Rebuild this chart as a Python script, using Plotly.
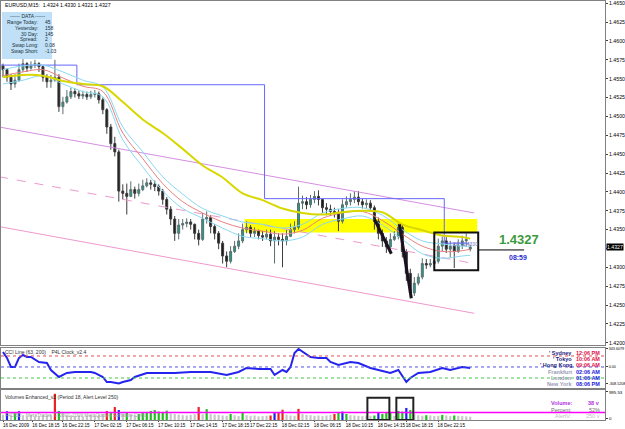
import plotly.graph_objects as go
from plotly.subplots import make_subplots

# ---------------- data ----------------
bar_idx = list(range(118))
opens = [1.4567,1.4562,1.4552,1.4543,1.4548,1.4562,1.4570,1.4564,1.4568,1.4570,
         1.4566,1.4552,1.4546,1.4548,1.4552,1.4513,1.4519,1.4526,1.4533,1.4530,
         1.4527,1.4529,1.4526,1.4529,1.4530,1.4522,1.4509,1.4486,1.4464,1.4453,
         1.4401,1.4398,1.4394,1.4403,1.4398,1.4403,1.4408,1.4412,1.4410,1.4407,
         1.4401,1.4390,1.4377,1.4364,1.4345,1.4356,1.4358,1.4360,1.4357,1.4345,
         1.4337,1.4364,1.4366,1.4354,1.4345,1.4332,1.4315,1.4308,1.4321,1.4328,
         1.4335,1.4350,1.4353,1.4345,1.4348,1.4342,1.4340,1.4344,1.4335,1.4340,
         1.4337,1.4335,1.4341,1.4350,1.4353,1.4385,1.4387,1.4383,1.4390,1.4394,
         1.4390,1.4379,1.4377,1.4374,1.4372,1.4361,1.4383,1.4387,1.4390,1.4393,
         1.4387,1.4383,1.4385,1.4379,1.4361,1.4345,1.4335,1.4327,1.4337,1.4341,
         1.4353,1.4321,1.4292,1.4266,1.4279,1.4287,1.4305,1.4303,1.4305,1.4308,
         1.4328,1.4335,1.4324,1.4328,1.4321,1.4329,1.4335,1.4324]
closes = [1.4562,1.4552,1.4543,1.4548,1.4562,1.4570,1.4564,1.4568,1.4570,1.4566,
          1.4552,1.4546,1.4548,1.4552,1.4513,1.4519,1.4526,1.4533,1.4530,1.4527,
          1.4529,1.4526,1.4529,1.4530,1.4522,1.4509,1.4486,1.4464,1.4453,1.4401,
          1.4398,1.4394,1.4403,1.4398,1.4403,1.4408,1.4412,1.4410,1.4407,1.4401,
          1.4390,1.4377,1.4364,1.4345,1.4356,1.4358,1.4360,1.4357,1.4345,1.4337,
          1.4364,1.4366,1.4354,1.4345,1.4332,1.4315,1.4308,1.4321,1.4328,1.4335,
          1.4350,1.4353,1.4345,1.4348,1.4342,1.4340,1.4344,1.4335,1.4340,1.4337,
          1.4335,1.4341,1.4350,1.4353,1.4385,1.4387,1.4383,1.4390,1.4394,1.4390,
          1.4379,1.4377,1.4374,1.4372,1.4361,1.4383,1.4387,1.4390,1.4393,1.4387,
          1.4383,1.4385,1.4379,1.4361,1.4345,1.4335,1.4327,1.4337,1.4341,1.4353,
          1.4321,1.4292,1.4266,1.4279,1.4287,1.4305,1.4303,1.4305,1.4308,1.4328,
          1.4335,1.4324,1.4328,1.4321,1.4329,1.4335,1.4337,1.4327]
highs = [1.4570,1.4564,1.4556,1.4556,1.4570,1.4576,1.4572,1.4573,1.4575,1.4572,
         1.4567,1.4556,1.4555,1.4575,1.4556,1.4526,1.4535,1.4538,1.4537,1.4534,
         1.4534,1.4533,1.4534,1.4535,1.4533,1.4525,1.4511,1.4490,1.4473,1.4456,
         1.4410,1.4411,1.4414,1.4407,1.4411,1.4416,1.4418,1.4416,1.4415,1.4410,
         1.4404,1.4393,1.4381,1.4368,1.4364,1.4364,1.4365,1.4364,1.4358,1.4350,
         1.4372,1.4374,1.4369,1.4357,1.4348,1.4335,1.4321,1.4328,1.4335,1.4345,
         1.4358,1.4361,1.4356,1.4353,1.4350,1.4348,1.4350,1.4350,1.4348,1.4345,
         1.4345,1.4350,1.4358,1.4361,1.4407,1.4395,1.4393,1.4396,1.4401,1.4402,
         1.4390,1.4385,1.4383,1.4379,1.4377,1.4390,1.4394,1.4398,1.4401,1.4401,
         1.4391,1.4390,1.4389,1.4382,1.4366,1.4350,1.4340,1.4345,1.4348,1.4358,
         1.4356,1.4324,1.4298,1.4287,1.4292,1.4312,1.4311,1.4311,1.4313,1.4338,
         1.4341,1.4340,1.4335,1.4332,1.4337,1.4342,1.4345,1.4330]
lows = [1.4552,1.4546,1.4535,1.4538,1.4546,1.4559,1.4559,1.4562,1.4564,1.4559,
        1.4546,1.4538,1.4538,1.4546,1.4506,1.4503,1.4517,1.4523,1.4525,1.4523,
        1.4523,1.4522,1.4523,1.4525,1.4517,1.4503,1.4477,1.4456,1.4447,1.4387,
        1.4390,1.4370,1.4393,1.4391,1.4394,1.4401,1.4406,1.4403,1.4401,1.4395,
        1.4383,1.4370,1.4356,1.4335,1.4337,1.4350,1.4353,1.4350,1.4337,1.4329,
        1.4335,1.4358,1.4345,1.4337,1.4324,1.4305,1.4300,1.4305,1.4319,1.4324,
        1.4332,1.4345,1.4340,1.4340,1.4337,1.4335,1.4337,1.4328,1.4305,1.4329,
        1.4300,1.4329,1.4340,1.4345,1.4350,1.4377,1.4377,1.4379,1.4385,1.4382,
        1.4372,1.4369,1.4368,1.4366,1.4348,1.4358,1.4379,1.4382,1.4385,1.4382,
        1.4378,1.4378,1.4374,1.4350,1.4337,1.4327,1.4319,1.4319,1.4335,1.4337,
        1.4313,1.4282,1.4259,1.4262,1.4276,1.4284,1.4298,1.4300,1.4300,1.4305,
        1.4321,1.4319,1.4313,1.4299,1.4319,1.4324,1.4327,1.4321]

ma_idx = [0,5,10,15,20,25,30,35,40,45,50,55,60,65,70,75,80,85,90,95,100,105,110,115,117]
ma_yellow = [1.4552,1.4555,1.4554,1.4547,1.4543,1.4540,1.4519,1.4496,1.4478,1.4457,1.4435,1.4419,1.4398,
             1.4389,1.4378,1.4372,1.4370,1.4373,1.4375,1.4373,1.4357,1.4349,1.4342,1.4340,1.4338]
env_upper = [1.4562,1.4567,1.4568,1.4559,1.4548,1.4539,1.4486,1.4453,1.4420,1.4397,1.4378,1.4368,1.4360,
             1.4357,1.4352,1.4357,1.4372,1.4378,1.4379,1.4369,1.4350,1.4335,1.4331,1.4328,1.4328]
ma_red = [1.4554,1.4559,1.4562,1.4551,1.4540,1.4533,1.4478,1.4444,1.4411,1.4387,1.4372,1.4360,1.4352,
          1.4348,1.4344,1.4349,1.4365,1.4372,1.4374,1.4362,1.4344,1.4328,1.4321,1.4322,1.4324]
env_lower = [1.4543,1.4548,1.4554,1.4543,1.4533,1.4526,1.4469,1.4433,1.4401,1.4378,1.4365,1.4352,1.4341,
             1.4338,1.4335,1.4340,1.4357,1.4364,1.4368,1.4356,1.4337,1.4318,1.4312,1.4315,1.4316]

chan_x = [-1, 118]
chan_upper = [1.4486, 1.4372]
chan_middle = [1.4420, 1.4305]
chan_lower = [1.4354, 1.4239]

step_x = [-0.5, 18.5, 65.5, 110.5, 116.75]
step_y = [1.4568, 1.4542, 1.4391, 1.4332, 1.4332]

zone_x = [60.5, 118.75]
zone_y = [1.4346, 1.4364]
box_x = [108, 119]
box_y = [1.4296, 1.4346]
zig_x = [93, 97.25, None, 99.25, 102.25]
zig_y = [1.4364, 1.4318, None, 1.4357, 1.4259]
last_price = 1.4327
bid_line_x = [119, 130.5]

cci_x = [0,1,2,3,4,5,6,7,9,11,12,14,16,18,22,23,25,26,27,29,30,32,33,36,39,43,47,52,56,59,61,64,67,68,
         70,71,72,73,74,77,79,81,82,84,87,89,92,94,97,99,101,102,104,107,110,112,115,117]
cci_v = [273,164,0,0,164,218,182,182,91,73,-55,-182,-109,-91,-91,-109,-182,-273,-273,-300,-273,-236,-182,
         -109,-109,-109,-91,-91,-145,-91,-18,-36,-36,-145,-55,-91,0,255,327,182,164,164,91,36,91,73,-18,
         -55,-109,-55,-273,-200,-109,-91,-18,-55,0,-18]
cci_levels = [200, 0, -200]

volumes = [180,290,140,230,290,150,120,160,110,130,
           150,140,170,870,300,220,160,140,130,150,
           120,140,160,130,170,200,300,250,430,330,
           220,250,180,160,200,230,260,300,330,280,
           250,310,220,200,180,160,150,170,190,430,
           190,360,200,180,170,150,140,200,160,130,
           250,160,140,150,120,130,140,150,230,250,
           340,180,150,140,370,200,170,160,140,150,
           130,150,170,200,250,280,200,160,150,140,
           130,150,140,150,230,200,250,230,140,300,
           280,400,330,200,160,140,160,150,130,140,
           170,150,130,150,140,130,120,110]
vol_kind = list("gBgGBggggg" "gggRGggggg" "ggggggRGRB" "gGggGGGGGG" "GGgggggggR"
                "gGgggggGgg" "GggggggRB"  "R" "RgggRggggg" "gggRGBGggg" "gggGBGGGgG"
                "GBGgggGggg" "GggGgggg")
alert_level = 250
vol_box_x = [[91.25, 96.75], [98.5, 102.75]]
vol_box_y = [0, 740]

price_ticks = [1.4200,1.4225,1.4250,1.4275,1.4300,1.4325,1.4350,1.4375,1.4400,1.4425,1.4450,
               1.4475,1.4500,1.4525,1.4550,1.4575,1.4600,1.4625,1.4650]
time_ticks = [0, 7.5, 15, 23, 31, 39, 47, 55, 62, 70, 78, 86, 94, 101, 109]
time_labels = ["16 Dec 2009","16 Dec 18:15","16 Dec 22:15","17 Dec 02:15","17 Dec 06:15","17 Dec 10:15",
               "17 Dec 14:15","17 Dec 18:15","17 Dec 22:15","18 Dec 02:15","18 Dec 06:15","18 Dec 10:15",
               "18 Dec 14:15","18 Dec 18:15","18 Dec 22:15"]

# ---------------- figure ----------------
FONT = "Liberation Sans"
W, H = 625, 429
ML, MR, MT, MB = 1, 20, 1, 9
PW, PH = W - ML - MR, H - MT - MB

def px(x):
    return (x - ML) / PW

def py(y):
    return (H - MB - y) / PH

fig = make_subplots(rows=3, cols=1, shared_xaxes=True, vertical_spacing=0)

fig.add_trace(go.Scatter(x=chan_x, y=chan_upper, mode="lines", line=dict(color="#d48ee0", width=1)), 1, 1)
fig.add_trace(go.Scatter(x=chan_x, y=chan_middle, mode="lines", line=dict(color="#ee99cc", width=1, dash="dash")), 1, 1)
fig.add_trace(go.Scatter(x=chan_x, y=chan_lower, mode="lines", line=dict(color="#ee99cc", width=1)), 1, 1)
fig.add_trace(go.Scatter(x=step_x, y=step_y, mode="lines", line=dict(color="#6666ff", width=1, shape="hv")), 1, 1)
fig.add_trace(go.Scatter(x=ma_idx, y=env_upper, mode="lines", line=dict(color="#88d8f0", width=1, shape="spline")), 1, 1)
fig.add_trace(go.Scatter(x=ma_idx, y=env_lower, mode="lines", line=dict(color="#88d8f0", width=1, shape="spline")), 1, 1)
fig.add_trace(go.Scatter(x=ma_idx, y=ma_red, mode="lines", line=dict(color="#e88080", width=1, shape="spline")), 1, 1)
fig.add_trace(go.Scatter(x=ma_idx, y=ma_yellow, mode="lines", line=dict(color="#d8d800", width=2, shape="spline")), 1, 1)
fig.add_trace(go.Candlestick(x=bar_idx, open=opens, high=highs, low=lows, close=closes,
                             increasing=dict(line=dict(color="#5a6e6e", width=1), fillcolor="#1fa08e"),
                             decreasing=dict(line=dict(color="#3a3a3a", width=1), fillcolor="#1a1a1a"),
                             whiskerwidth=0), 1, 1)
fig.add_trace(go.Scatter(x=zig_x, y=zig_y, mode="lines", line=dict(color="#1a1020", width=3)), 1, 1)
fig.add_trace(go.Scatter(x=bid_line_x, y=[last_price - 0.0004] * 2, mode="lines",
                         line=dict(color="black", width=1)), 1, 1)

# CCI
fig.add_trace(go.Scatter(x=cci_x, y=cci_v, mode="lines", line=dict(color="#2424ee", width=2)), 2, 1)
for lvl, col in zip(cci_levels, ["#e05050", "#5050e0", "#40cc40"]):
    fig.add_hline(y=lvl, line=dict(color=col, width=1, dash="dot"), row=2, col=1)

# Volumes
cmap = {"g": "#c8c8c8", "G": "#22bb22", "R": "#ee2020", "B": "#2020ee"}
fig.add_trace(go.Bar(x=bar_idx, y=volumes, marker=dict(color=[cmap[k] for k in vol_kind], line=dict(width=0)),
                     width=0.55), 3, 1)
fig.add_hline(y=alert_level, line=dict(color="#ff00ff", width=1.5), row=3, col=1)
for bx in vol_box_x:
    fig.add_shape(type="rect", x0=bx[0], x1=bx[1], y0=vol_box_y[0], y1=vol_box_y[1], xref="x3", yref="y3",
                  line=dict(color="#222222", width=2))

# main shapes
fig.add_shape(type="rect", x0=zone_x[0], x1=zone_x[1], y0=zone_y[0], y1=zone_y[1], xref="x", yref="y",
              fillcolor="#ffff00", line=dict(width=0), layer="below")
fig.add_shape(type="rect", x0=box_x[0], x1=box_x[1], y0=box_y[0], y1=box_y[1], xref="x", yref="y",
              line=dict(color="#111111", width=2))

# axes
ax_common = dict(showgrid=False, zeroline=False, showline=True, mirror=True, linecolor="#808080", linewidth=1,
                 range=[-0.5, 150.75], automargin=False)
fig.update_xaxes(**ax_common, rangeslider_visible=False)
fig.update_xaxes(showticklabels=False, row=1, col=1)
fig.update_xaxes(showticklabels=False, row=2, col=1)
fig.update_xaxes(tickmode="array", tickvals=time_ticks, ticktext=time_labels, ticks="outside", ticklen=1,
                 tickcolor="#404040", tickfont=dict(family=FONT, size=4.6, color="black"), ticklabelshift=13,
                 ticklabelstandoff=-1, tickangle=0, row=3, col=1)

ay_common = dict(showgrid=False, zeroline=False, showline=True, mirror=True, linecolor="#808080", linewidth=1,
                 side="right", ticks="outside", ticklen=2, tickcolor="#404040", automargin=False,
                 ticklabelstandoff=0, tickfont=dict(family=FONT, size=5.2, color="black"))
fig.update_layout(
    yaxis=dict(**ay_common, domain=[py(345), 1], range=[1.4197, 1.4653], tickmode="array",
               tickvals=price_ticks,
               ticktext=["" if abs(v - last_price) < 0.001 else "%.4f" % v for v in price_ticks]),
    yaxis2=dict(**ay_common, domain=[py(388), py(348)], range=[-382, 345], tickmode="array",
                tickvals=[330, 0, -300], ticktext=["343.6079", "0.00", "-308.5208"]),
    yaxis3=dict(**ay_common, domain=[0, py(390)], range=[0, 995.53], tickmode="array",
                tickvals=[930, 60], ticktext=["995.53", "0"]),
)
fig.update_yaxes(tickfont=dict(family=FONT, size=3.7, color="black"), row=2, col=1)
fig.update_yaxes(tickfont=dict(family=FONT, size=4.4, color="black"), row=3, col=1)

anns = []
def ann(x, y, text, size=6, color="black", xanchor="left", bold=False, **kw):
    t = "<b>%s</b>" % text if bold else text
    anns.append(dict(x=px(x), y=py(y), xref="paper", yref="paper", text=t, showarrow=False,
                     xanchor=xanchor, yanchor="middle", font=dict(family=FONT, size=size, color=color), **kw))

ann(3, 5, "EURUSD,M15:  1.4324 1.4330 1.4321 1.4327", size=5.2)
# data box
fig.add_shape(type="rect", xref="paper", yref="paper", x0=px(2), x1=px(52), y0=py(59), y1=py(12),
              fillcolor="#bfe0f6", line=dict(width=0))
ann(27, 16, "------ DATA ------", size=5, color="#203040", xanchor="center")
data_rows = [("Range Today:", "45"), ("Yesterday:", "158"), ("30 Day:", "145"), ("Spread:", "2"),
             ("Swap Long:", "0.08"), ("Swap Short:", "-1.03")]
for k, (lab, val) in enumerate(data_rows):
    yy = [22, 28, 34, 39.5, 45.3, 51][k]
    ann(40, yy, lab, size=5, color="#203040", xanchor="right")
    ann(43, yy, val, size=5, color="#203040", xanchor="left")

ann(451, 244, "DP  1.4330", size=5, color="#7777cc")
ann(519, 240, "1.4327", size=13, color="#3c9a3c", xanchor="center", bold=True)
ann(518, 257, "08:59", size=7, color="#2a2ad0", xanchor="center", bold=True)
anns.append(dict(x=px(606), y=py(247), xref="paper", yref="paper", text="1.4327", showarrow=False,
                 xanchor="left", yanchor="middle", bgcolor="black", borderpad=0,
                 font=dict(family=FONT, size=5.2, color="white")))

ann(3, 352, "CCI Line (63, 200)    P4L Clock_v2.4", size=5, color="#303030")
ann(3, 397, "Volumes Enhanced_v2 (Period 18, Alert Level 250)", size=5, color="#303030")
ann(3, 415, "F4DBD - MetaTrader, © 2001-2009 MetaQuotes Software Corp.", size=5, color="#a0a0a0")

clock = [("' Sydney", "12:06 PM", "#1a1a80", "#e0104a"), ("' Tokyo", "10:06 AM", "#1a1a80", "#e0104a"),
         ("' Hong Kong", "09:06 AM", "#1a1a80", "#e0104a"), ("Frankfurt", "02:06 AM", "#9a9ab8", "#2020e0"),
         ("London", "01:06 AM", "#9a9ab8", "#2020e0"), ("New York", "08:06 PM", "#9a9ab8", "#2020e0")]
for k, (name, tm, c1, c2) in enumerate(clock):
    yy = [353, 359, 365.3, 371.7, 377.7, 384][k]
    ann(574, yy, name, size=5.5, color=c1, xanchor="right", bold=True)
    ann(602, yy, tm, size=5.5, color=c2, xanchor="right", bold=True)

vinfo = [("Volume:", "38 v", "#b030e0"), ("Percent:", "52%", "#707070"), ("AlertV:", "250 v", "#c0c0c0")]
for k, (name, v, c) in enumerate(vinfo):
    yy = [403, 409.5, 415.5][k]
    ann(574, yy, name, size=5.5, color=c, xanchor="right", bold=(k == 0))
    ann(602, yy, v, size=5.5, color=c, xanchor="right", bold=(k == 0))

fig.update_layout(
    width=W, height=H, margin=dict(l=ML, r=MR, t=MT, b=MB, autoexpand=False),
    paper_bgcolor="white", plot_bgcolor="white", showlegend=False,
    font=dict(family=FONT, size=6), annotations=anns, boxgap=0.3,
)

fig.write_html("out.html")
